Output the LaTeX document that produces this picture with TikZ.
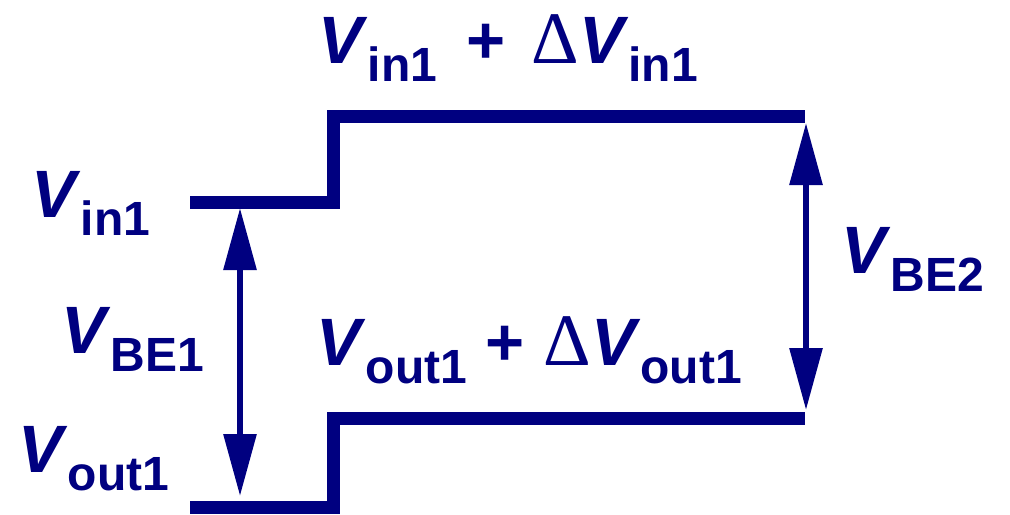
\documentclass[tikz,border=0pt]{standalone}
\usepackage{fontspec}
\setmainfont{Liberation Sans}
\newfontfamily\deltafont{Liberation Serif}
\usetikzlibrary{arrows.meta}
\definecolor{navy}{HTML}{000080}
\newcommand{\mainsize}{\fontsize{33.5}{40}\selectfont}
\newcommand{\subsize}{\fontsize{24}{28}\selectfont}
\newcommand{\vsub}[1]{\textit{V}\raisebox{-9pt}{\subsize #1}}
\newcommand{\dlt}{{\deltafont\mdseries\fontsize{37}{40}\selectfont Δ}}
\tikzset{
    level/.style={draw=navy, line width=6.5pt, line join=miter, line cap=butt},
    span/.style={draw=navy, line width=3pt,
                 {Triangle[length=31pt,width=16pt]}-{Triangle[length=31pt,width=16pt]}},
    lbl/.style={text=navy, inner sep=0pt, anchor=base west, font=\mainsize\bfseries},
}
\begin{document}
\begin{tikzpicture}[x=0.5pt, y=-0.5pt]
    \useasboundingbox (0,0) rectangle (1010,514);

    % ── INPUT LEVEL ──
    \coordinate (ia) at (190,202);
    \coordinate (ib) at (333.5,202);
    \coordinate (ic) at (333.5,116);
    \coordinate (id) at (805,116);
    \draw[level] (ia) -- (ib) -- (ic) -- (id);

    % ── OUTPUT LEVEL ──
    \coordinate (oa) at (190,507);
    \coordinate (ob) at (333.5,507);
    \coordinate (oc) at (333.5,418.5);
    \coordinate (od) at (805,418.5);
    \draw[level] (oa) -- (ob) -- (oc) -- (od);

    % ── VBE SPANS ──
    \coordinate (s1t) at (240,208);
    \coordinate (s1b) at (240,496);
    \draw[span] (s1t) -- (s1b);
    \coordinate (s2t) at (806,123);
    \coordinate (s2b) at (806,410);
    \draw[span] (s2t) -- (s2b);

    % ── LABELS ──
    \node[lbl] (vin)  at (31,217)  {\vsub{in1}};
    \node[lbl] (vbe1) at (61,353)  {\vsub{BE1}};
    \node[lbl] (vout) at (18,472)  {\vsub{out1}};
    \node[lbl] (vbe2) at (841,273) {\vsub{BE2}};
    \node[lbl] (vtop) at (318,63)
        {\vsub{in1}\hspace{5.5pt} +\hspace{3.5pt} \dlt\vsub{in1}};
    \node[lbl] (vbot) at (316,365) {\vsub{out1} + \dlt\vsub{out1}};

\end{tikzpicture}
\end{document}
